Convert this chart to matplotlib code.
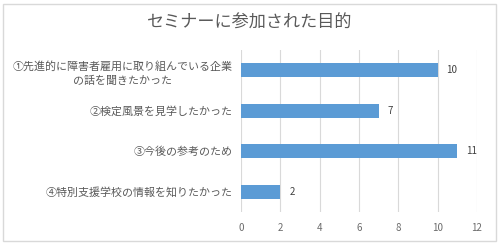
import matplotlib
matplotlib.use("Agg")
import matplotlib.pyplot as plt
from matplotlib.patches import Rectangle

plt.rcParams['font.family'] = ['Noto Sans CJK JP', 'DejaVu Sans']

title = "セミナーに参加された目的"
labels = ["①先進的に障害者雇用に取り組んでいる企業\nの話を聞きたかった",
          "②検定風景を見学したかった",
          "③今後の参考のため",
          "④特別支援学校の情報を知りたかった"]
values = [10, 7, 11, 2]
xticks = [0, 2, 4, 6, 8, 10, 12]

W, H = 503, 245
fig = plt.figure(figsize=(W / 100, H / 100), dpi=100)
fig.patch.set_facecolor('white')

# outer chart border
fig.patches.append(Rectangle((3 / W, 4 / H), 493 / W, 237 / H, transform=fig.transFigure,
                             fill=False, edgecolor='#d9d9d9', linewidth=1))

ax = fig.add_axes([241 / W, 1 - 212 / H, 236 / W, 162 / H])
ypos = list(range(len(values)))
ax.barh(ypos, values, height=0.35, color='#5b9bd5', zorder=3)
ax.set_ylim(len(values) - 0.5, -0.5)
ax.set_xlim(0, 12)
ax.set_xticks(xticks)
ax.set_yticks(ypos)
ax.set_yticklabels(labels, fontsize=7.9, color='#595959', ha='right',
                   multialignment='center', linespacing=1.45)
ax.tick_params(axis='y', length=0, pad=6)
ax.tick_params(axis='x', length=0, pad=8, labelsize=7, labelcolor='#6b6b6b')
ax.grid(axis='x', color='#d9d9d9', linewidth=0.8, zorder=0)
for s in ax.spines.values():
    s.set_visible(False)

for y, v in zip(ypos, values):
    ax.text(v + 0.45, y, str(v), va='center', ha='left', fontsize=7, color='#404040')

fig.text(250 / W, 1 - 23 / H, title, ha='center', va='center', fontsize=12.3,
         color='#595959')

fig.savefig('out.png', dpi=100)
